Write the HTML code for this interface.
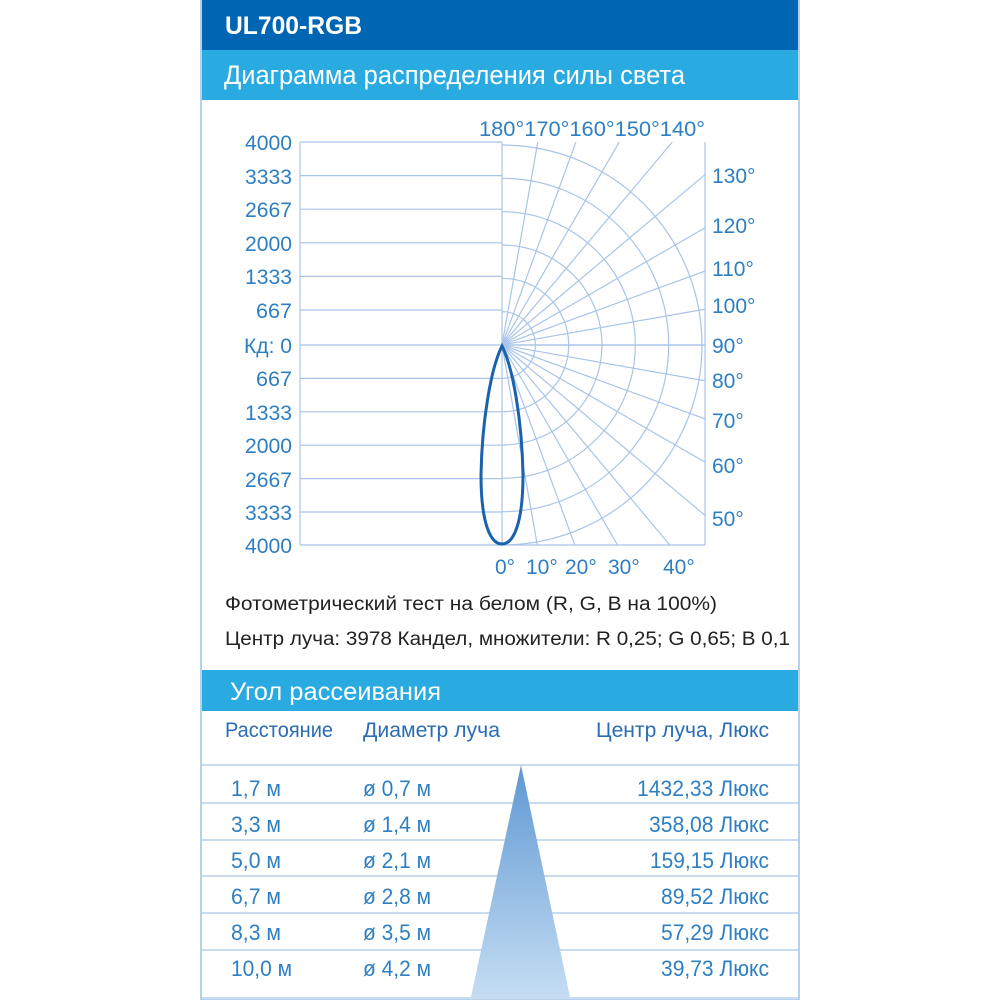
<!DOCTYPE html>
<html><head><meta charset="utf-8"><style>
html,body{margin:0;padding:0;background:#fff;}
svg{display:block;}
text{font-family:"Liberation Sans",sans-serif;}
</style></head><body>
<svg width="1000" height="1000" viewBox="0 0 1000 1000" xmlns="http://www.w3.org/2000/svg">
<defs>
<clipPath id="bx"><rect x="502" y="142" width="203.5" height="403"/></clipPath>
<linearGradient id="tg" x1="0" y1="0" x2="0" y2="1">
<stop offset="0" stop-color="#5f98d3"/><stop offset="1" stop-color="#c4ddf3"/>
</linearGradient>
</defs>
<rect x="201" y="0" width="598" height="1000" fill="#fff" stroke="#9cc3e6" stroke-width="1.5"/>
<rect x="202" y="0" width="596" height="50" fill="#0066b3"/>
<text x="225" y="34" fill="#fff" font-size="25" font-weight="bold" textLength="137" lengthAdjust="spacingAndGlyphs">UL700-RGB</text>
<rect x="202" y="50" width="596" height="50" fill="#29abe2"/>
<text x="224" y="84" fill="#fff" font-size="27" textLength="461" lengthAdjust="spacingAndGlyphs">Диаграмма распределения силы света</text>

<g stroke="#a9c4e8" stroke-width="1.2" fill="none">
<line x1="300" y1="142" x2="300" y2="545"/>
<line x1="705" y1="142" x2="705" y2="545"/>
<line x1="502" y1="142" x2="502" y2="545"/>
<line x1="300" y1="142" x2="502" y2="142"/>
<line x1="300" y1="175.6" x2="502" y2="175.6"/>
<line x1="300" y1="209.2" x2="502" y2="209.2"/>
<line x1="300" y1="242.8" x2="502" y2="242.8"/>
<line x1="300" y1="276.4" x2="502" y2="276.4"/>
<line x1="300" y1="310" x2="502" y2="310"/>
<line x1="300" y1="345" x2="705" y2="345"/>
<line x1="300" y1="378.4" x2="502" y2="378.4"/>
<line x1="300" y1="411.8" x2="502" y2="411.8"/>
<line x1="300" y1="445.2" x2="502" y2="445.2"/>
<line x1="300" y1="478.6" x2="502" y2="478.6"/>
<line x1="300" y1="512" x2="502" y2="512"/>
<line x1="300" y1="545" x2="705" y2="545"/>
<g clip-path="url(#bx)">
<circle cx="502" cy="345" r="33.3"/><circle cx="502" cy="345" r="66.7"/><circle cx="502" cy="345" r="100"/>
<circle cx="502" cy="345" r="133.3"/><circle cx="502" cy="345" r="166.7"/><circle cx="502" cy="345" r="200"/>
<line x1="502" y1="345" x2="571.5" y2="739"/>
<line x1="502" y1="345" x2="638.8" y2="720.9"/>
<line x1="502" y1="345" x2="702" y2="691.4"/>
<line x1="502" y1="345" x2="759.1" y2="651.4"/>
<line x1="502" y1="345" x2="808.4" y2="602.1"/>
<line x1="502" y1="345" x2="848.4" y2="545"/>
<line x1="502" y1="345" x2="877.9" y2="481.8"/>
<line x1="502" y1="345" x2="896" y2="414.5"/>
<line x1="502" y1="345" x2="902" y2="345"/>
<line x1="502" y1="345" x2="896" y2="275.5"/>
<line x1="502" y1="345" x2="877.9" y2="208.2"/>
<line x1="502" y1="345" x2="848.4" y2="145"/>
<line x1="502" y1="345" x2="808.4" y2="87.9"/>
<line x1="502" y1="345" x2="759.1" y2="38.6"/>
<line x1="502" y1="345" x2="702" y2="-1.4"/>
<line x1="502" y1="345" x2="638.8" y2="-30.9"/>
<line x1="502" y1="345" x2="571.5" y2="-49"/>
</g>
</g>
<path d="M502,346 C491,368 482,420 481,475 C481,522 490,544 502,544 C514,544 523,522 523,475 C522,420 513,368 502,346Z" fill="none" stroke="#1a62ab" stroke-width="3"/>

<g fill="#2e7fc2" font-size="21" text-anchor="end">
<text x="292" y="150" textLength="47" lengthAdjust="spacingAndGlyphs">4000</text><text x="292" y="184" textLength="47" lengthAdjust="spacingAndGlyphs">3333</text><text x="292" y="217" textLength="47" lengthAdjust="spacingAndGlyphs">2667</text>
<text x="292" y="251" textLength="47" lengthAdjust="spacingAndGlyphs">2000</text><text x="292" y="284" textLength="47" lengthAdjust="spacingAndGlyphs">1333</text><text x="292" y="318" textLength="36" lengthAdjust="spacingAndGlyphs">667</text>
<text x="292" y="353" textLength="48" lengthAdjust="spacingAndGlyphs">Кд: 0</text><text x="292" y="386" textLength="36" lengthAdjust="spacingAndGlyphs">667</text><text x="292" y="420" textLength="47" lengthAdjust="spacingAndGlyphs">1333</text>
<text x="292" y="453" textLength="47" lengthAdjust="spacingAndGlyphs">2000</text><text x="292" y="487" textLength="47" lengthAdjust="spacingAndGlyphs">2667</text><text x="292" y="520" textLength="47" lengthAdjust="spacingAndGlyphs">3333</text>
<text x="292" y="553" textLength="47" lengthAdjust="spacingAndGlyphs">4000</text>
</g>
<g fill="#2e7fc2" font-size="21">
<text x="479" y="136" textLength="226" lengthAdjust="spacingAndGlyphs">180°170°160°150°140°</text>
<text x="712" y="183">130°</text><text x="712" y="233">120°</text><text x="712" y="276">110°</text>
<text x="712" y="313">100°</text><text x="712" y="353">90°</text><text x="712" y="388">80°</text>
<text x="712" y="428">70°</text><text x="712" y="473">60°</text><text x="712" y="526">50°</text>
<text x="495" y="574">0°</text><text x="526" y="574">10°</text><text x="565" y="574">20°</text>
<text x="608" y="574">30°</text><text x="663" y="574">40°</text>
</g>

<text x="225" y="610" fill="#222" font-size="19" textLength="492" lengthAdjust="spacingAndGlyphs">Фотометрический тест на белом (R, G, B на 100%)</text>
<text x="225" y="645" fill="#222" font-size="19" textLength="565" lengthAdjust="spacingAndGlyphs">Центр луча: 3978 Кандел,  множители: R 0,25; G 0,65; B 0,1</text>

<rect x="202" y="670" width="596" height="41" fill="#29abe2"/>
<text x="230" y="700" fill="#fff" font-size="25" textLength="211" lengthAdjust="spacingAndGlyphs">Угол рассеивания</text>

<g stroke="#c9dcef" stroke-width="2">
<line x1="202" y1="765" x2="798" y2="765"/><line x1="202" y1="803" x2="798" y2="803"/>
<line x1="202" y1="840" x2="798" y2="840"/><line x1="202" y1="876" x2="798" y2="876"/>
<line x1="202" y1="913" x2="798" y2="913"/><line x1="202" y1="950" x2="798" y2="950"/>
<line x1="202" y1="998" x2="798" y2="998"/>
</g>
<polygon points="521,765 471,997 570,997" fill="url(#tg)"/>
<g fill="#2a6db5" font-size="21">
<text x="225" y="737" textLength="108" lengthAdjust="spacingAndGlyphs">Расстояние</text>
<text x="363" y="737" textLength="137" lengthAdjust="spacingAndGlyphs">Диаметр луча</text>
<text x="596" y="737" textLength="173" lengthAdjust="spacingAndGlyphs">Центр луча, Люкс</text>
</g>
<g fill="#2e7fc2" font-size="22">
<text x="231" y="796" textLength="50" lengthAdjust="spacingAndGlyphs">1,7 м</text><text x="231" y="832" textLength="50" lengthAdjust="spacingAndGlyphs">3,3 м</text><text x="231" y="868" textLength="50" lengthAdjust="spacingAndGlyphs">5,0 м</text>
<text x="231" y="904" textLength="50" lengthAdjust="spacingAndGlyphs">6,7 м</text><text x="231" y="940" textLength="50" lengthAdjust="spacingAndGlyphs">8,3 м</text><text x="231" y="976" textLength="61" lengthAdjust="spacingAndGlyphs">10,0 м</text>
<text x="363" y="796" textLength="68" lengthAdjust="spacingAndGlyphs">ø 0,7 м</text><text x="363" y="832" textLength="68" lengthAdjust="spacingAndGlyphs">ø 1,4 м</text><text x="363" y="868" textLength="68" lengthAdjust="spacingAndGlyphs">ø 2,1 м</text>
<text x="363" y="904" textLength="68" lengthAdjust="spacingAndGlyphs">ø 2,8 м</text><text x="363" y="940" textLength="68" lengthAdjust="spacingAndGlyphs">ø 3,5 м</text><text x="363" y="976" textLength="68" lengthAdjust="spacingAndGlyphs">ø 4,2 м</text>
</g>
<g fill="#2e7fc2" font-size="22" text-anchor="end">
<text x="769" y="796" textLength="132" lengthAdjust="spacingAndGlyphs">1432,33 Люкс</text><text x="769" y="832" textLength="120" lengthAdjust="spacingAndGlyphs">358,08 Люкс</text><text x="769" y="868" textLength="119" lengthAdjust="spacingAndGlyphs">159,15 Люкс</text>
<text x="769" y="904" textLength="108" lengthAdjust="spacingAndGlyphs">89,52 Люкс</text><text x="769" y="940" textLength="108" lengthAdjust="spacingAndGlyphs">57,29 Люкс</text><text x="769" y="976" textLength="108" lengthAdjust="spacingAndGlyphs">39,73 Люкс</text>
</g>
</svg>
</body></html>
